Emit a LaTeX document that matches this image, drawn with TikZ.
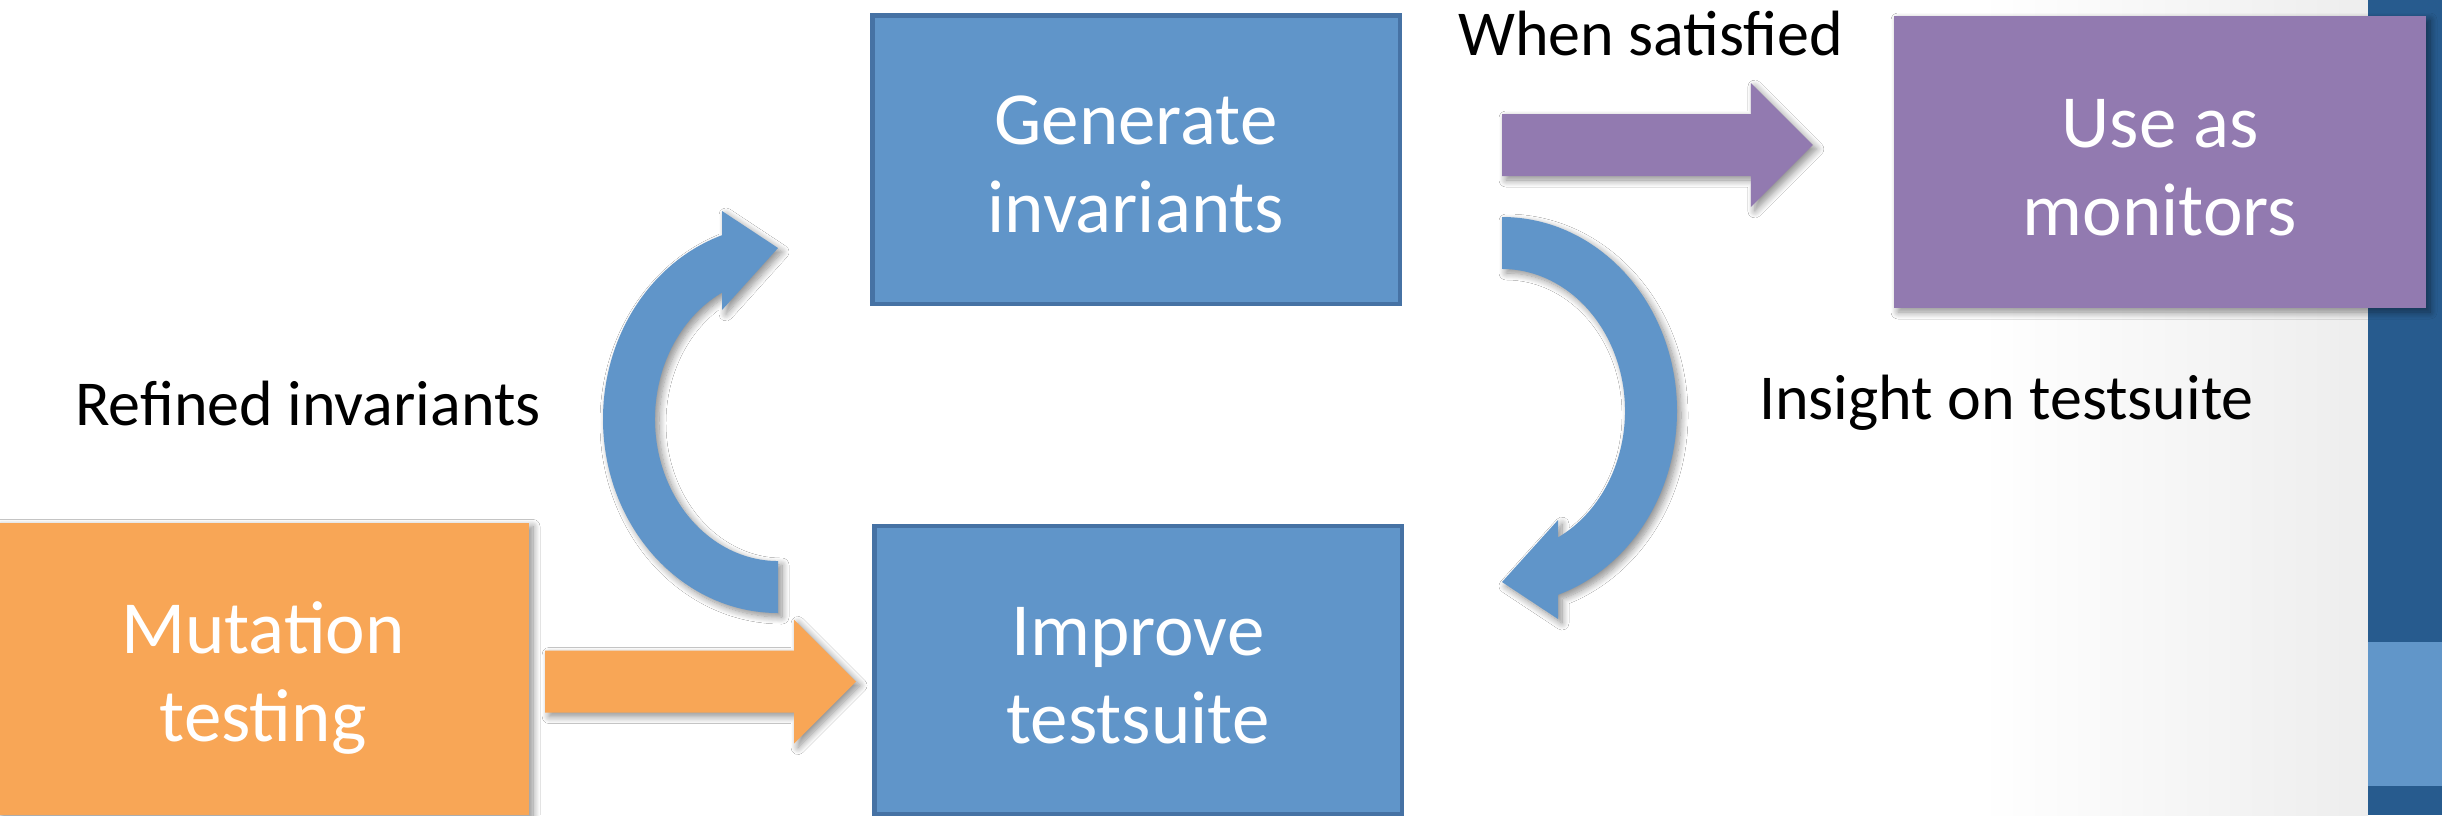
\documentclass[tikz,border=0pt]{standalone}
\usepackage{fontspec}
\setmainfont{Carlito}
\usetikzlibrary{calc,shadows.blur}

\definecolor{boxblue}{HTML}{6095C9}
\definecolor{boxedge}{HTML}{4672A4}
\definecolor{boxpurple}{HTML}{927AB0}
\definecolor{boxorange}{HTML}{F8A656}
\definecolor{bardark}{HTML}{275B8E}
\definecolor{barlight}{HTML}{6196C9}

% straight block arrow from #2 (tail) to #3 (tip), drawn with style #1
\newcommand\blockarrow[3]{%
  \path[#1] let \p1=(#2), \p2=(#3) in
    (\x1,\y1+31pt) -- (\x2-62pt,\y1+31pt) -- (\x2-62pt,\y1+62pt) -- (\x2,\y1)
    -- (\x2-62pt,\y1-62pt) -- (\x2-62pt,\y1-31pt) -- (\x1,\y1-31pt) -- cycle;}

\begin{document}
\begin{tikzpicture}[x=1pt,y=-1pt,
  softshadow/.style={blur shadow={shadow xshift=4pt,shadow yshift=-4pt,
      shadow blur radius=7pt,shadow opacity=45,shadow blur steps=10}},
  boxtext/.style={text=white,align=center,inner sep=0pt,
      font=\fontsize{75}{88}\selectfont},
  bluebox/.style={boxtext,fill=boxblue,draw=boxedge,line width=4.5pt,
      minimum width=527.5pt,minimum height=288.5pt},
  flatbox/.style={boxtext,minimum width=532pt,minimum height=292pt,softshadow},
  lbl/.style={anchor=base west,inner sep=0pt,font=\fontsize{64}{76}\selectfont},
  flowarrow/.style={softshadow}]

\useasboundingbox (0,0) rectangle (2442,815);
\clip (0,0) rectangle (2442,815);

% slide background with a soft grey shade towards the side bar
\fill[white] (0,0) rectangle (2442,815);
\shade[left color=white,right color=black!7] (1980,0) rectangle (2368,815);

% side bar
\fill[bardark] (2368,0) rectangle (2442,815);
\fill[barlight] (2368,642) rectangle (2442,786);

% boxes
\node[bluebox] (gen) at (1136,159.5)
  {\rule{0pt}{78pt}Generate\\invariants\rule[-20pt]{0pt}{20pt}};
\node[bluebox] (imp) at (1138,670)
  {\rule{0pt}{78pt}Improve\\testsuite\rule[-20pt]{0pt}{20pt}};
\node[flatbox,fill=boxpurple] (use) at (2160,162)
  {\rule{0pt}{78pt}Use as\\monitors\rule[-20pt]{0pt}{20pt}};
\node[flatbox,fill=boxorange] (mut) at (263,668.5)
  {\rule{0pt}{78pt}Mutation\\testing\rule[-20pt]{0pt}{20pt}};

% labels
\node[lbl] (refined) at (75,425) {Refined invariants};
\node[lbl] (insight) at (1759,419) {Insight on testsuite};
\node[lbl] (when) at (1458,55) {When satisfied};

% straight arrows
\coordinate (mutout) at ($(mut.east)+(16,13)$);
\coordinate (impin) at ($(imp.west)+(-16,12)$);
\coordinate (genout) at ($(gen.east)+(100,-14.5)$);
\coordinate (usein) at ($(use.west)+(-81,-17)$);
\blockarrow{flowarrow,fill=boxorange}{mutout}{impin}
\blockarrow{flowarrow,fill=boxpurple}{genout}{usein}

% curved arrows: testsuite -> invariants (left), invariants -> testsuite (right)
\path[flowarrow,fill=boxblue]
  (778,613) arc[start angle=90,end angle=251.34,x radius=175,y radius=194]
  -- (722,211) -- (778,248) -- (722,310) -- (722,292.6)
  arc[start angle=242.92,end angle=90,x radius=123,y radius=142] -- cycle;
\path[flowarrow,fill=boxblue,rotate around={180:(1140,415)}]
  (778,613) arc[start angle=90,end angle=251.34,x radius=175,y radius=194]
  -- (722,211) -- (778,248) -- (722,310) -- (722,292.6)
  arc[start angle=242.92,end angle=90,x radius=123,y radius=142] -- cycle;

\end{tikzpicture}
\end{document}
